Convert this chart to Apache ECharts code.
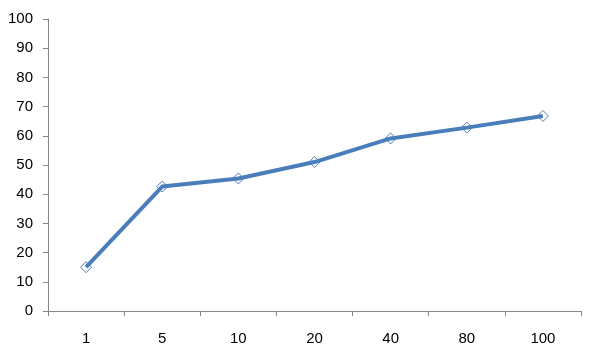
<!DOCTYPE html>
<html>
<head>
<meta charset="utf-8">
<script src="https://cdn.jsdelivr.net/npm/echarts@6/dist/echarts.min.js"></script>
<style>html,body{margin:0;padding:0;background:#fff;}#c{width:600px;height:362px;}</style>
</head>
<body>
<div id="c"></div>
<script>
var categories = ['1', '5', '10', '20', '40', '80', '100'];
var values = [15.0, 42.6, 45.4, 51.0, 59.1, 62.8, 66.8];

var chart = echarts.init(document.getElementById('c'), null, {renderer: 'canvas'});
var axisColor = '#868686';
var font = '"Liberation Sans", Arial, sans-serif';
chart.setOption({
  animation: false,
  backgroundColor: '#ffffff',
  grid: {left: 48, right: 19, top: 19, bottom: 51, containLabel: false},
  xAxis: {
    type: 'category',
    data: categories,
    boundaryGap: true,
    axisLine: {lineStyle: {color: axisColor, width: 1}},
    axisTick: {show: true, length: 5, lineStyle: {color: axisColor}},
    axisLabel: {color: '#000', fontSize: 15, fontFamily: font, margin: 20},
    splitLine: {show: false}
  },
  yAxis: {
    type: 'value',
    min: 0, max: 100, interval: 10,
    axisLine: {show: true, lineStyle: {color: axisColor, width: 1}},
    axisTick: {show: true, length: 5, lineStyle: {color: axisColor}},
    axisLabel: {color: '#000', fontSize: 15, fontFamily: font, margin: 15},
    splitLine: {show: false}
  },
  series: [{
    type: 'line',
    data: values,
    symbol: 'diamond',
    symbolSize: 11,
    lineStyle: {color: '#4a7ebb', width: 4},
    itemStyle: {color: 'rgba(0,0,0,0)', borderColor: '#4a7ebb', borderWidth: 1},
    z: 2
  }]
});
</script>
</body>
</html>
